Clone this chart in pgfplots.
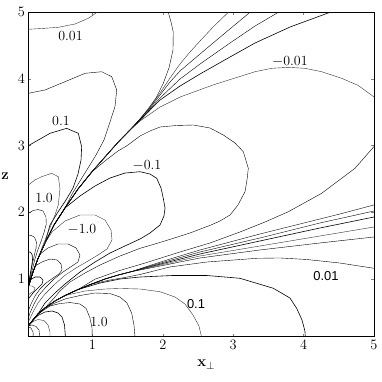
\documentclass[border=0pt]{standalone}
\usepackage{pgfplots}
\pgfplotsset{compat=1.18}
\usepackage{fontspec}
\newfontfamily\helv{Liberation Sans}
\begin{document}
\begin{tikzpicture}[x=1bp,y=1bp]
\useasboundingbox (-28.3,-45.3) rectangle (353.7,336.7);
\begin{axis}[
    at={(0,0)}, anchor=south west,
    scale only axis, width=345.7bp, height=324.4bp,
    xmin=0.09, xmax=5, ymin=0.13, ymax=5,
    xtick={1,2,3,4,5}, ytick={1,2,3,4,5},
    tick align=inside, major tick length=3bp,
    tick label style={font=\fontsize{14}{14}\selectfont},
    axis line style={line width=0.8pt},
    cycle list={{black!80, solid, no markers, line width=0.6pt}},
]
% region above the upper nodal line
\addplot coordinates {(0.090,4.745) (0.327,4.760) (0.516,4.775) (0.753,4.824) (0.942,4.910) (1.052,4.989) (1.108,5.034)};
\addplot coordinates {(0.090,0.876) (0.157,1.101) (0.228,1.304) (0.327,1.537) (0.455,1.807) (0.611,2.062) (0.796,2.347) (0.991,2.602) (1.179,2.828) (1.368,3.053) (1.534,3.233) (1.677,3.398)
  (1.790,3.548) (1.904,3.713) (2.003,3.924) (2.088,4.164) (2.145,4.434) (2.149,4.704) (2.117,4.854) (2.078,5.000) (2.046,5.185)};
\addplot coordinates {(0.090,3.784) (0.327,3.834) (0.611,3.958) (0.895,4.084) (1.133,4.108) (1.275,4.033) (1.346,3.834) (1.321,3.583) (1.250,3.353) (1.165,3.083) (1.052,2.858) (0.938,2.662) (0.824,2.467) (0.711,2.272)
  (0.611,2.062) (0.455,1.807) (0.327,1.537) (0.228,1.304) (0.157,1.101) (0.090,0.876)};
\addplot coordinates {(0.090,2.997) (0.398,3.183) (0.635,3.258) (0.800,3.183) (0.848,2.982) (0.839,2.783) (0.796,2.572) (0.725,2.362) (0.626,2.183) (0.512,2.002) (0.398,1.807)
  (0.327,1.537) (0.228,1.304) (0.157,1.101) (0.090,0.876)};
\addplot coordinates {(0.090,2.407) (0.185,2.483) (0.280,2.532) (0.422,2.583) (0.516,2.532) (0.540,2.358) (0.516,2.108) (0.470,1.960) (0.410,1.800) (0.350,1.640) (0.290,1.480) (0.250,1.360)
  (0.157,1.101) (0.090,0.876)};
\addplot coordinates {(0.090,1.982) (0.157,2.024) (0.228,2.039) (0.299,2.017) (0.341,1.927) (0.345,1.820) (0.315,1.700) (0.270,1.560) (0.225,1.430) (0.185,1.300) (0.150,1.150) (0.115,1.000) (0.090,0.876)};
\addplot coordinates {(0.090,1.642) (0.135,1.650) (0.180,1.620) (0.205,1.550) (0.200,1.460) (0.175,1.350) (0.145,1.210) (0.115,1.050) (0.090,0.876)};
\addplot coordinates {(0.090,1.402) (0.120,1.400) (0.145,1.360) (0.150,1.280) (0.135,1.170) (0.110,1.020) (0.090,0.876)};
% upper bundle
\addplot coordinates {(0.090,0.876) (0.157,1.101) (0.228,1.304) (0.327,1.537) (0.455,1.807) (0.611,2.062) (0.796,2.347) (0.991,2.602) (1.179,2.828) (1.368,3.053) (1.534,3.233) (1.677,3.398)
  (1.819,3.578) (1.961,3.788) (2.103,4.014) (2.245,4.224) (2.387,4.404) (2.529,4.569) (2.728,4.794) (2.931,5.000) (3.026,5.094)};
\addplot coordinates {(0.090,0.876) (0.157,1.101) (0.228,1.304) (0.327,1.537) (0.455,1.807) (0.611,2.062) (0.796,2.347) (0.991,2.602) (1.179,2.828) (1.368,3.053) (1.534,3.233) (1.677,3.398)
  (1.819,3.563) (1.961,3.758) (2.103,3.954) (2.245,4.119) (2.529,4.374) (2.884,4.689) (3.239,5.000) (3.324,5.079)};
\addplot coordinates {(0.090,0.876) (0.157,1.101) (0.228,1.304) (0.327,1.537) (0.455,1.807) (0.611,2.062) (0.796,2.347) (0.991,2.602) (1.179,2.828) (1.368,3.053) (1.534,3.233)
  (1.677,3.383) (1.819,3.548) (1.961,3.713) (2.245,3.999) (2.529,4.224) (2.955,4.539) (3.310,4.794) (3.641,5.000) (3.736,5.064)};
\addplot coordinates {(0.090,0.876) (0.157,1.101) (0.228,1.304) (0.327,1.537) (0.455,1.807) (0.611,2.062) (0.796,2.347) (0.991,2.602) (1.179,2.828) (1.368,3.053) (1.534,3.233)
  (1.677,3.376) (1.819,3.533) (1.961,3.683) (2.245,3.893) (2.529,4.074) (2.955,4.329) (3.310,4.539) (3.807,4.779) (4.375,5.000) (4.588,5.079)};
% middle lobe
\addplot coordinates {(0.090,0.876) (0.157,1.101) (0.228,1.304) (0.327,1.537) (0.455,1.807) (0.611,2.062) (0.796,2.347) (0.991,2.602) (1.179,2.828) (1.368,3.053) (1.534,3.233)
  (1.677,3.368) (1.819,3.473) (1.961,3.578) (2.245,3.728) (2.713,3.909) (3.310,4.108) (3.547,4.159) (3.783,4.174) (4.020,4.159) (4.257,4.108) (4.541,4.009) (4.777,3.901) (5.000,3.729) (5.085,3.653)};
\addplot coordinates {(5.085,3.083) (5.000,2.985) (4.730,2.658) (4.257,2.283) (3.783,2.006) (3.452,1.852) (3.097,1.702) (2.671,1.537) (2.245,1.402) (1.748,1.236) (1.364,1.116) (1.037,0.993)
  (0.796,0.838) (0.611,0.748) (0.469,0.666) (0.327,0.561) (0.228,0.471) (0.157,0.381) (0.090,0.291)};
\addplot coordinates {(0.090,0.876) (0.157,1.101) (0.228,1.304) (0.327,1.537) (0.455,1.807) (0.611,2.062) (0.796,2.347) (0.991,2.602)
  (1.179,2.768) (1.364,2.918) (1.486,2.993) (1.677,3.143) (1.819,3.218) (1.961,3.278) (2.198,3.301) (2.434,3.308) (2.671,3.263) (2.860,3.158) (3.026,3.038) (3.144,2.907) (3.215,2.658) (3.196,2.482) (3.168,2.307) (3.068,2.107) (2.955,1.957) (2.813,1.867) (2.685,1.807) (2.387,1.687) (2.150,1.607) (1.890,1.522) (1.677,1.457) (1.392,1.341) (1.108,1.206) (0.895,1.086) (0.682,0.951) (0.540,0.816) (0.469,0.726)
  (0.327,0.561) (0.228,0.471) (0.157,0.381) (0.090,0.291)};
\addplot coordinates {(0.090,0.876) (0.157,1.101) (0.228,1.304) (0.327,1.537) (0.455,1.807) (0.611,2.062)
  (0.824,2.242) (1.037,2.392) (1.250,2.512) (1.463,2.587) (1.677,2.607) (1.819,2.572) (1.914,2.508) (1.975,2.362) (2.007,2.208) (2.032,2.062) (2.017,1.942) (1.961,1.807) (1.819,1.687) (1.677,1.597) (1.463,1.492) (1.250,1.386) (1.037,1.251) (0.824,1.101) (0.611,0.921) (0.469,0.786) (0.327,0.636)
  (0.228,0.471) (0.157,0.381) (0.090,0.291)};
\addplot coordinates {(0.090,0.876) (0.157,1.101) (0.228,1.304) (0.327,1.537)
  (0.427,1.702) (0.611,1.867) (0.824,1.957) (1.037,1.957) (1.179,1.882) (1.265,1.732) (1.279,1.582) (1.208,1.447) (1.080,1.357) (0.938,1.266) (0.768,1.162) (0.597,1.041) (0.455,0.906) (0.327,0.771) (0.228,0.636) (0.157,0.501) (0.090,0.351)};
\addplot coordinates {(0.090,0.876) (0.157,1.101) (0.228,1.304) (0.256,1.370)
  (0.370,1.462) (0.512,1.522) (0.654,1.522) (0.768,1.462) (0.824,1.357) (0.796,1.252) (0.711,1.191) (0.583,1.101) (0.455,0.996) (0.341,0.876) (0.242,0.756) (0.171,0.621) (0.114,0.486) (0.090,0.411)};
\addplot coordinates {(0.090,0.876) (0.157,1.101) (0.185,1.191)
  (0.285,1.252) (0.398,1.296) (0.498,1.282) (0.555,1.221) (0.569,1.131) (0.526,1.071) (0.441,1.011) (0.341,0.936) (0.256,0.846) (0.185,0.741) (0.128,0.621) (0.090,0.516)};
\addplot coordinates {(0.090,0.876) (0.114,0.981) (0.185,1.026) (0.256,1.026) (0.299,0.981) (0.285,0.921) (0.228,0.861) (0.157,0.786) (0.090,0.696)};
\addplot coordinates {(0.090,0.891) (0.143,0.891) (0.185,0.861) (0.171,0.816) (0.128,0.786) (0.090,0.756)};
% lower bundle
\addplot coordinates {(0.090,0.291) (0.157,0.381) (0.228,0.471) (0.327,0.561) (0.469,0.666) (0.611,0.748) (0.796,0.838) (0.991,0.921) (1.179,0.996) (1.368,1.056) (1.563,1.109)
  (1.748,1.176) (2.103,1.296) (2.529,1.432) (2.955,1.552) (3.380,1.672) (3.948,1.822) (4.516,1.972) (5.000,2.108) (5.085,2.138)};
\addplot coordinates {(0.090,0.291) (0.157,0.381) (0.228,0.471) (0.327,0.561) (0.469,0.666) (0.611,0.748) (0.796,0.838) (0.991,0.921) (1.179,0.996) (1.368,1.056) (1.563,1.109)
  (1.748,1.169) (2.529,1.402) (3.380,1.612) (4.232,1.837) (5.000,2.017) (5.085,2.040)};
\addplot coordinates {(0.090,0.291) (0.157,0.381) (0.228,0.471) (0.327,0.561) (0.469,0.666) (0.611,0.748) (0.796,0.838) (0.991,0.921) (1.179,0.996) (1.368,1.056) (1.563,1.109)
  (1.748,1.161) (2.529,1.372) (3.380,1.567) (4.232,1.762) (5.000,1.927) (5.085,1.942)};
\addplot coordinates {(0.090,0.291) (0.157,0.381) (0.228,0.471) (0.327,0.561) (0.469,0.666) (0.611,0.748) (0.796,0.838) (0.991,0.921) (1.179,0.996) (1.368,1.056) (1.563,1.109)
  (1.748,1.154) (2.529,1.342) (3.380,1.492) (4.232,1.642) (5.000,1.777) (5.085,1.792)};
\addplot coordinates {(0.090,0.291) (0.157,0.381) (0.228,0.471) (0.327,0.561) (0.469,0.666) (0.611,0.748) (0.796,0.838) (0.991,0.921) (1.179,0.996) (1.368,1.056) (1.563,1.109)
  (1.748,1.146) (2.529,1.312) (3.380,1.432) (4.232,1.537) (5.000,1.627) (5.085,1.634)};
% region below the lower nodal line
\addplot coordinates {(0.090,0.291) (0.157,0.381) (0.228,0.471) (0.327,0.561) (0.469,0.666) (0.611,0.748) (0.796,0.838) (0.991,0.921)
  (1.250,0.981) (1.463,1.019) (1.677,1.064) (2.103,1.177) (2.624,1.251) (3.334,1.307) (3.664,1.312) (4.044,1.289) (4.516,1.236) (5.000,1.157) (5.085,1.139)};
\addplot coordinates {(0.090,0.291) (0.157,0.381) (0.228,0.471) (0.327,0.561) (0.469,0.666) (0.611,0.748) (0.796,0.838)
  (1.108,0.936) (1.392,0.996) (1.677,1.026) (2.145,1.049) (2.624,1.049) (3.096,1.007) (3.570,0.857) (3.806,0.711) (3.902,0.556) (3.977,0.381) (4.019,0.216) (4.027,0.080)};
\addplot coordinates {(0.090,0.291) (0.157,0.381) (0.228,0.471) (0.327,0.561) (0.469,0.666) (0.611,0.748)
  (0.895,0.816) (1.179,0.846) (1.392,0.854) (1.677,0.846) (1.961,0.805) (2.173,0.726) (2.315,0.621) (2.429,0.456) (2.514,0.291) (2.550,0.130) (2.557,0.080)};
\addplot coordinates {(0.090,0.291) (0.157,0.381) (0.228,0.471) (0.327,0.561)
  (0.469,0.636) (0.611,0.696) (0.824,0.748) (1.037,0.786) (1.250,0.778) (1.392,0.726) (1.492,0.636) (1.559,0.481) (1.591,0.306) (1.605,0.130) (1.605,0.080)};
\addplot coordinates {(0.090,0.291) (0.157,0.381) (0.228,0.471)
  (0.398,0.591) (0.540,0.628) (0.682,0.643) (0.824,0.621) (0.910,0.556) (0.966,0.411) (0.995,0.261) (0.999,0.080)};
\addplot coordinates {(0.090,0.291) (0.157,0.381)
  (0.228,0.448) (0.327,0.501) (0.427,0.516) (0.512,0.486) (0.569,0.426) (0.604,0.306) (0.621,0.080)};
\addplot coordinates {(0.090,0.291) (0.157,0.358) (0.228,0.388) (0.313,0.373) (0.370,0.306) (0.398,0.201) (0.398,0.080)};
\addplot coordinates {(0.090,0.291) (0.143,0.306) (0.201,0.283) (0.242,0.231) (0.256,0.080)};
\addplot coordinates {(0.090,0.276) (0.128,0.261) (0.157,0.201) (0.162,0.080)};
% level labels
\begin{scope}[every node/.style={font=\fontsize{14}{14}\selectfont, inner sep=0pt}]
\node at (axis cs:0.689,4.644) {0.01};
\node at (axis cs:0.554,3.368) {0.1};
\node at (axis cs:0.313,2.212) {1.0};
\node at (axis cs:3.806,4.261) {$-$0.01};
\node at (axis cs:1.775,2.708) {$-$0.1};
\node at (axis cs:0.853,1.747) {$-$1.0};
\node at (axis cs:1.094,0.351) {1.0};
\node[font=\helv\fontsize{13}{13}\selectfont] at (axis cs:4.318,1.041) {0.01};
\node[font=\helv\fontsize{13}{13}\selectfont] at (axis cs:2.472,0.621) {0.1};
\end{scope}
\end{axis}
\node[font=\fontsize{15}{15}\selectfont] at (-23.3,160.7) {\textbf{z}};
\node[font=\fontsize{15}{15}\selectfont] at (178,-28) {\textbf{x}$_{\perp}$};
\end{tikzpicture}
\end{document}
